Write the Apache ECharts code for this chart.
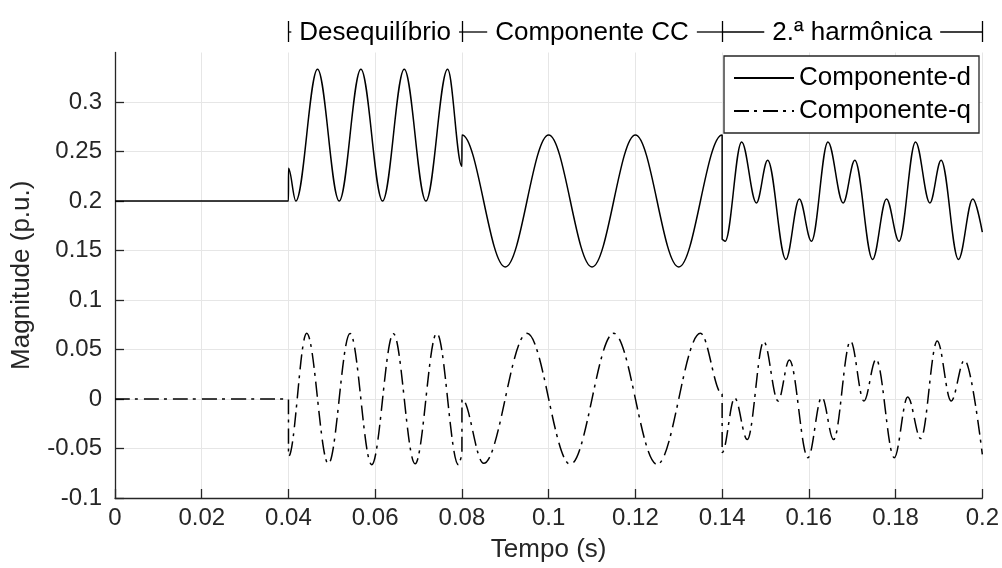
<!DOCTYPE html>
<html><head><meta charset="utf-8">
<script src="https://cdn.jsdelivr.net/npm/echarts@6/dist/echarts.min.js"></script>
<style>html,body{margin:0;padding:0;background:#fff}#c{width:1002px;height:568px}</style>
</head><body><div id="c"></div>
<script>
// ---- data (extrema and jump points) ----
const dTime = [0, 0.04, 0.04001, 0.0417, 0.0467, 0.0517, 0.0567, 0.0617, 0.0667, 0.0717, 0.0767, 0.08, 0.08001,
  0.09, 0.1, 0.11, 0.12, 0.13, 0.14, 0.14001, 0.1407, 0.1445, 0.1479, 0.1505, 0.1547, 0.1578, 0.1606,
  0.1644, 0.1679, 0.1706, 0.1747, 0.1779, 0.1808, 0.1846, 0.1879, 0.1905, 0.1945, 0.1978, 0.2];
const dValues = [0.2, 0.2, 0.233, 0.2, 0.333, 0.2, 0.333, 0.2, 0.333, 0.2, 0.333, 0.235, 0.2667,
  0.1333, 0.2667, 0.1333, 0.2667, 0.1333, 0.2667, 0.161, 0.1594, 0.2597, 0.1981, 0.2412, 0.141, 0.2021, 0.1594,
  0.2597, 0.1981, 0.2412, 0.141, 0.2021, 0.1594, 0.2597, 0.1981, 0.2412, 0.141, 0.2021, 0.1685];
const qTime = [0, 0.04, 0.04001, 0.0442, 0.0492, 0.0542, 0.0592, 0.0642, 0.0692, 0.0742, 0.0792, 0.08, 0.08001,
  0.085, 0.095, 0.105, 0.115, 0.125, 0.135, 0.14, 0.14001, 0.1429, 0.1458, 0.1496, 0.1529, 0.1555, 0.1598,
  0.163, 0.1657, 0.1696, 0.1727, 0.1755, 0.1797, 0.1828, 0.1858, 0.1896, 0.1928, 0.1959, 0.2];
const qValues = [0, 0, -0.058, 0.0664, -0.0655, 0.0662, -0.0664, 0.066, -0.0655, 0.0664, -0.0664, -0.058, 0.0,
  -0.065, 0.0663, -0.066, 0.0663, -0.066, 0.0663, 0.005, -0.054, 0.001, -0.041, 0.058, -0.002, 0.0395, -0.0593,
  0.002, -0.041, 0.0586, -0.002, 0.04, -0.0593, 0.002, -0.04, 0.0586, -0.002, 0.0395, -0.056];
const seriesNames = ['Componente-d', 'Componente-q'];
const xTicks = [0, 0.02, 0.04, 0.06, 0.08, 0.1, 0.12, 0.14, 0.16, 0.18, 0.2];
const xTickLabels = ['0', '0.02', '0.04', '0.06', '0.08', '0.1', '0.12', '0.14', '0.16', '0.18', '0.2'];
const yTicks = [-0.1, -0.05, 0, 0.05, 0.1, 0.15, 0.2, 0.25, 0.3];
const yTickLabels = ['-0.1', '-0.05', '0', '0.05', '0.1', '0.15', '0.2', '0.25', '0.3'];
const headerBounds = [0.04, 0.08, 0.14, 0.2];
const headerLabels = ['Desequilíbrio', 'Componente CC', '2.ª harmônica'];
const xName = 'Tempo (s)';
const yName = 'Magnitude (p.u.)';

const FONT = '"Liberation Sans", Arial, sans-serif';
const AX = '#262626';
const GRID = '#e6e6e6';

function lbl(ticks, labels) {
  return v => { const i = ticks.findIndex(t => Math.abs(t - v) < 1e-9); return i >= 0 ? labels[i] : ''; };
}

const chart = echarts.init(document.getElementById('c'), null, {renderer: 'canvas'});
chart.setOption({
  animation: false,
  backgroundColor: '#fff',
  grid: {left: 115, right: 19, top: 52.5, bottom: 68.4, containLabel: false},
  legend: {
    orient: 'vertical', right: 23, top: 56,
    padding: [9, 8, 9, 9], itemWidth: 60, itemHeight: 14, itemGap: 7,
    borderColor: AX, borderWidth: 1.3, backgroundColor: '#fff',
    itemStyle: {opacity: 0},
    textStyle: {fontFamily: FONT, fontSize: 26, lineHeight: 26, color: '#000'},
    data: seriesNames
  },
  xAxis: {
    type: 'value', min: 0, max: 0.2, interval: 0.02,
    name: xName, nameLocation: 'middle', nameGap: 39,
    nameTextStyle: {fontFamily: FONT, fontSize: 26, color: AX},
    axisLine: {onZero: false, lineStyle: {color: AX, width: 1.3}},
    axisTick: {inside: true, length: 9, lineStyle: {color: AX, width: 1.3}},
    axisLabel: {fontFamily: FONT, fontSize: 24, color: AX, margin: 8, formatter: lbl(xTicks, xTickLabels)},
    splitLine: {show: true, lineStyle: {color: GRID, width: 1}}
  },
  yAxis: {
    type: 'value', min: -0.1, max: 0.35, interval: 0.05,
    name: yName, nameLocation: 'middle', nameGap: 80,
    nameTextStyle: {fontFamily: FONT, fontSize: 26, color: AX},
    axisLine: {show: true, onZero: false, lineStyle: {color: AX, width: 1.3}},
    axisTick: {show: true, inside: true, length: 9, customValues: yTicks, lineStyle: {color: AX, width: 1.3}},
    axisLabel: {fontFamily: FONT, fontSize: 24, color: AX, margin: 13, showMaxLabel: false, formatter: lbl(yTicks, yTickLabels)},
    splitLine: {show: true, lineStyle: {color: [GRID, GRID, GRID, GRID, GRID, GRID, GRID, GRID, GRID, 'rgba(0,0,0,0)'], width: 1}}
  },
  series: [
    {
      name: seriesNames[0], type: 'line', symbol: 'none', smooth: 0.36, smoothMonotone: 'x',
      data: dTime.map((t, i) => [t, dValues[i]]),
      lineStyle: {color: '#000', width: 1.5}, itemStyle: {color: 'rgba(0,0,0,0)'}
    },
    {
      name: seriesNames[1], type: 'line', symbol: 'none', smooth: 0.36, smoothMonotone: 'x',
      data: qTime.map((t, i) => [t, qValues[i]]),
      lineStyle: {color: '#000', width: 1.5, type: [15, 5, 3, 6]}, itemStyle: {color: 'rgba(0,0,0,0)'}
    }
  ]
});

// header annotation above the plot
(function () {
  const ctx = document.createElement('canvas').getContext('2d');
  ctx.font = '26px "Liberation Sans"';
  const px = t => chart.convertToPixel({xAxisIndex: 0}, t);
  const els = [];
  const lineY = 32, barTop = 21, barBot = 42, gap = 8;
  const ls = {stroke: '#000', lineWidth: 1.3};
  headerBounds.forEach(b => {
    const x = Math.round(px(b)) + 0.5;
    els.push({type: 'line', shape: {x1: x, y1: barTop, x2: x, y2: barBot}, style: ls, silent: true});
  });
  for (let i = 0; i < headerLabels.length; i++) {
    const a = px(headerBounds[i]), c = px(headerBounds[i + 1]);
    const m = (a + c) / 2;
    const w = ctx.measureText(headerLabels[i]).width;
    const l1 = m - w / 2 - gap, r1 = m + w / 2 + gap;
    if (l1 > a + 1) els.push({type: 'line', shape: {x1: a, y1: lineY, x2: l1, y2: lineY}, style: ls, silent: true});
    if (c > r1 + 1) els.push({type: 'line', shape: {x1: r1, y1: lineY, x2: c, y2: lineY}, style: ls, silent: true});
    els.push({type: 'text', x: m, y: 33, style: {text: headerLabels[i], font: '26px "Liberation Sans"', fill: '#000', align: 'center', verticalAlign: 'middle'}, silent: true});
  }
  chart.setOption({graphic: {elements: els}});
})();
</script></body></html>
